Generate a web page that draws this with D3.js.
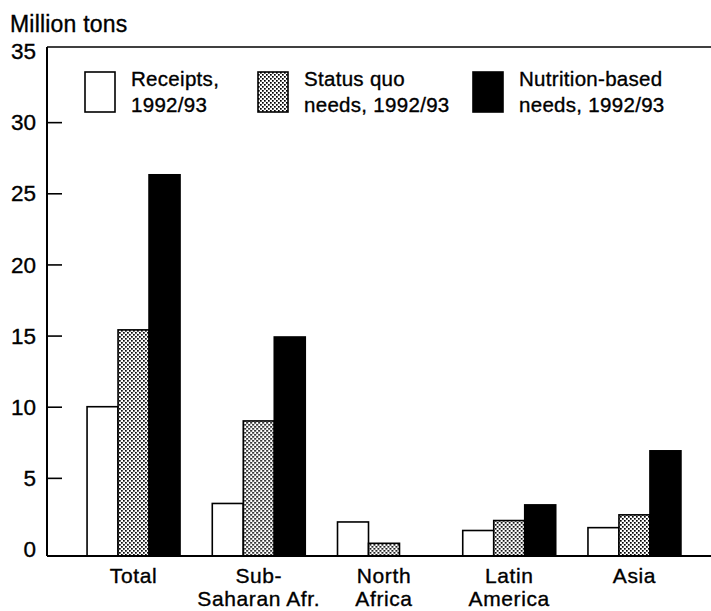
<!DOCTYPE html>
<html><head><meta charset="utf-8">
<script src="https://cdn.jsdelivr.net/npm/d3@7/dist/d3.min.js"></script>
<style>body{margin:0;background:#fff}svg{display:block;font-family:"Liberation Sans",Arial,Helvetica,sans-serif}text{stroke:#000;stroke-width:0.35px;fill:#000}</style>
</head><body><svg id="c" width="711" height="611"></svg>
<script>
const categories = [["Total"],["Sub-","Saharan Afr."],["North","Africa"],["Latin","America"],["Asia"]];
const categoryKeys = ["Total","Sub-Saharan Afr.","North Africa","Latin America","Asia"];
const seriesNames = ["Receipts","Status quo","Nutrition-based"];
const legendLabels = [["Receipts,","1992/93"],["Status quo","needs, 1992/93"],["Nutrition-based","needs, 1992/93"]];
const receipts = [10.0, 3.2, 1.9, 1.3, 1.5];
const statusQuo = [15.4, 9.0, 0.4, 2.0, 2.4];
const nutrition = [26.3, 14.9, 0, 3.1, 6.9];
const yTicks = [0,5,10,15,20,25,30,35];
const yTitle = "Million tons";

const svg = d3.select("#c");
const defs = svg.append("defs");
const pat = defs.append("pattern").attr("id","dots").attr("patternUnits","userSpaceOnUse")
  .attr("width",4).attr("height",4);
pat.append("rect").attr("width",4).attr("height",4).attr("fill","#fff");
pat.append("rect").attr("x",0).attr("y",0).attr("width",1.7).attr("height",1.7).attr("fill","#000");
pat.append("rect").attr("x",2).attr("y",2).attr("width",1.7).attr("height",1.7).attr("fill","#000");

const fills = ["#fff","url(#dots)","#000"];
const seriesData = [receipts, statusQuo, nutrition];

const axisX = 47, right = 711, topY = 47;
const y = d3.scaleLinear().domain([0,35]).range([549,51]);
const baseY = 556;

const x0 = d3.scaleBand().domain(categoryKeys).range([57,711]).paddingInner(0.2575).paddingOuter(0.24);
const x1 = d3.scaleBand().domain(seriesNames).range([0,x0.bandwidth()]).padding(0);

// bars
categoryKeys.forEach((c,i)=>{
  const g = svg.append("g").attr("transform",`translate(${x0(c)},0)`);
  seriesNames.forEach((s,j)=>{
    const v = seriesData[j][i];
    if (v<=0) return;
    g.append("rect").attr("x",x1(s)).attr("y",y(v)).attr("width",x1.bandwidth())
      .attr("height",baseY - y(v)).attr("fill",fills[j]).attr("stroke","#000").attr("stroke-width",1.6);
  });
});

// axes lines
svg.append("line").attr("x1",axisX).attr("x2",right).attr("y1",topY).attr("y2",topY).attr("stroke","#000").attr("stroke-width",1.5);
svg.append("line").attr("x1",axisX).attr("x2",axisX).attr("y1",topY).attr("y2",baseY).attr("stroke","#000").attr("stroke-width",2);
svg.append("line").attr("x1",axisX).attr("x2",right).attr("y1",baseY).attr("y2",baseY).attr("stroke","#000").attr("stroke-width",2);

// y ticks
const yAxis = d3.axisRight(y).tickValues(yTicks.filter(t=>t>0 && t<35)).tickSize(15).tickFormat("");
const ya = svg.append("g").attr("transform",`translate(${axisX},0)`).call(yAxis);
ya.select(".domain").remove();
ya.selectAll(".tick line").attr("stroke","#000").attr("stroke-width",1.6);
svg.selectAll(".ylab").data(yTicks).join("text").attr("class","ylab")
  .attr("x",36).attr("y",d=>y(d)).attr("dy","0.36em").attr("text-anchor","end")
  .attr("font-size",22.5).text(d=>d);

svg.append("text").attr("x",10).attr("y",32).attr("font-size",23).attr("letter-spacing",0.2).text(yTitle);

// category labels
categories.forEach((lines,i)=>{
  const cx = x0(categoryKeys[i]) + x0.bandwidth()/2;
  lines.forEach((t,k)=>{
    svg.append("text").attr("x",cx).attr("y",582.5 + k*23.5).attr("text-anchor","middle")
      .attr("font-size",21).attr("letter-spacing",0.6).text(t);
  });
});

// legend
const legX = [85, 258, 473];
legendLabels.forEach((lines,j)=>{
  svg.append("rect").attr("x",legX[j]).attr("y",72).attr("width",30).attr("height",40)
    .attr("fill",fills[j]).attr("stroke","#000").attr("stroke-width",1.6);
  lines.forEach((t,k)=>{
    svg.append("text").attr("x",legX[j]+46).attr("y",86+k*25.5).attr("font-size",20.5).attr("letter-spacing",0.3).text(t);
  });
});
</script></body></html>
